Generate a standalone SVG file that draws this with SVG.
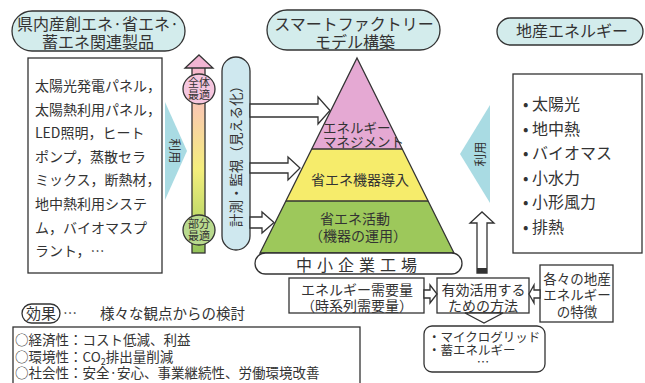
<svg xmlns="http://www.w3.org/2000/svg" width="645" height="383" viewBox="0 0 645 383">
<defs>
<linearGradient id="bar" x1="0" y1="0" x2="0" y2="1">
<stop offset="0" stop-color="#f6b7cf"/>
<stop offset="0.25" stop-color="#f9ccab"/>
<stop offset="0.55" stop-color="#f4ee7c"/>
<stop offset="0.8" stop-color="#c3db6a"/>
<stop offset="1" stop-color="#93c35a"/>
</linearGradient>
</defs>
<style>
text{font-family:"Noto Sans CJK JP","Noto Sans",sans-serif;fill:#333;}
.ln{stroke:#333;stroke-width:1.3;}
.pill{fill:#d3ecec;stroke:#333;stroke-width:1.3;}
.box{fill:#fff;stroke:#333;stroke-width:1.3;}
.arr{fill:#fff;stroke:#333;stroke-width:1.3;stroke-linejoin:miter;}
.use{fill:#a9dbe3;}
.c{text-anchor:middle;}
.t16{font-size:16px;}
.t14{font-size:14px;}
.t13{font-size:13.5px;}
.t11{font-size:11px;}
</style>
<rect width="645" height="383" fill="#fff"/>

<g id="label-products">
<rect class="pill" x="12" y="11" width="173" height="40" rx="20"/>
<text class="t16 c" x="98" y="29.5">県内産創エネ·省エネ·</text>
<text class="t16 c" x="98" y="48">蓄エネ関連製品</text>
</g>

<g id="box-products">
<rect class="box" x="28" y="58" width="134" height="215"/>
<text class="t14" x="35" y="91">太陽光発電パネル，</text>
<text class="t14" x="35" y="114.6">太陽熱利用パネル，</text>
<text class="t14" x="35" y="138.2">LED照明，ヒート</text>
<text class="t14" x="35" y="161.8">ポンプ，蒸散セラ</text>
<text class="t14" x="35" y="185.4">ミックス，断熱材，</text>
<text class="t14" x="35" y="209">地中熱利用システ</text>
<text class="t14" x="35" y="232.6">ム，バイオマスプ</text>
<text class="t14" x="35" y="256.2">ラント，…</text>
</g>

<g id="optimization-bar">
<rect x="192" y="67" width="13" height="186" fill="url(#bar)" class="ln"/>
<polygon points="199,55 213,68 185,68" fill="#f2b5d3" class="ln"/>
<ellipse cx="199" cy="89" rx="16" ry="15" fill="#f5c6de" class="ln"/>
<text class="t11 c" x="199" y="87">全体</text>
<text class="t11 c" x="199" y="99">最適</text>
<ellipse cx="199" cy="230" rx="16" ry="15" fill="#b9da8e" class="ln"/>
<text class="t11 c" x="199" y="228">部分</text>
<text class="t11 c" x="199" y="240">最適</text>
</g>

<g id="monitoring">
<rect class="pill" x="222" y="57" width="28" height="193" rx="14" style="fill:#cfe8ef"/>
<text class="t13 c" transform="translate(236,153) rotate(-90)" x="0" y="5">計測・監視（見える化）</text>
</g>

<g id="title-smart-factory">
<rect class="pill" x="267" y="10" width="173" height="40" rx="20"/>
<text class="t16 c" x="354" y="29.5">スマートファクトリー</text>
<text class="t16 c" x="355" y="48">モデル構築</text>
</g>

<g id="pyramid">
<polygon points="357,58 402.2,149 311.8,149" fill="#e5a9d3"/>
<polygon points="311.8,149 402.2,149 428.1,201 285.9,201" fill="#f6ec6b"/>
<polygon points="285.9,201 428.1,201 454,253 260,253" fill="#9dc85b"/>
<polygon points="357,58 454,253 260,253" fill="none" class="ln"/>
<line class="ln" x1="311.8" y1="149" x2="402.2" y2="149"/>
<line class="ln" x1="285.9" y1="201" x2="428.1" y2="201"/>
<text class="t13" x="323" y="133">エネルギー</text>
<text class="t13" x="323" y="147">マネジメント</text>
<text class="t14 c" x="360" y="185">省エネ機器導入</text>
<text class="t14 c" x="355" y="224">省エネ活動</text>
<text class="t14 c" x="358" y="241">（機器の運用）</text>
</g>

<g id="factory">
<rect class="box" x="255" y="253" width="207" height="21" rx="10.5"/>
<text class="t16 c" x="359" y="271" style="letter-spacing:5px">中小企業工場</text>
</g>

<g id="label-local-energy">
<rect class="pill" x="497" y="18" width="146" height="27" rx="13.5"/>
<text class="t16 c" x="572" y="37">地産エネルギー</text>
</g>

<g id="box-local-energy">
<rect class="box" x="513" y="74" width="129" height="179"/>
<text class="t16" x="523" y="110">• 太陽光</text>
<text class="t16" x="523" y="134.6">• 地中熱</text>
<text class="t16" x="523" y="159">• バイオマス</text>
<text class="t16" x="523" y="183.8">• 小水力</text>
<text class="t16" x="523" y="208">• 小形風力</text>
<text class="t16" x="523" y="233">• 排熱</text>
</g>

<g id="demand">
<rect class="box" x="289" y="278" width="135" height="35"/>
<text class="t14 c" x="357" y="295">エネルギー需要量</text>
<text class="t14 c" x="357" y="311">（時系列需要量）</text>
</g>

<g id="method">
<rect class="box" x="437" y="278" width="92" height="35"/>
<text class="t14 c" x="483.5" y="295">有効活用する</text>
<text class="t14 c" x="483" y="311">ための方法</text>
</g>

<g id="features">
<rect class="box" x="540" y="265" width="73" height="57"/>
<text class="t13 c" x="577" y="284">各々の地産</text>
<text class="t13 c" x="577" y="300">エネルギー</text>
<text class="t13 c" x="577" y="317">の特徴</text>
</g>

<g id="examples">
<rect class="box" x="424" y="326" width="121" height="46" rx="8"/>
<text x="428" y="341.5" style="font-size:12.5px">・マイクログリッド</text>
<text x="428" y="355" style="font-size:12.5px">・蓄エネルギー</text>
<text class="c" x="483" y="367" style="font-size:12.5px">…</text>
</g>

<g id="effects">
<rect class="box" x="22" y="304" width="38" height="19" rx="9.5"/>
<text class="c" x="41" y="319" style="font-size:15px">効果</text>
<text x="63" y="318" style="font-size:14px">…</text>
<text x="100" y="318.5" style="font-size:14.5px">様々な観点からの検討</text>
<rect class="box" x="13" y="327" width="347" height="70"/>
<text class="t13" x="15" y="345">○経済性：コスト低減、利益</text>
<text class="t13" x="15" y="362">○環境性：CO<tspan style="font-size:9px" dy="3">2</tspan><tspan dy="-3">排出量削減</tspan></text>
<text class="t13" x="15" y="378">○社会性：安全·安心、事業継続性、労働環境改善</text>
</g>

<g id="connectors">
<polygon class="use" points="165,102 187,151 165,200"/>
<text class="c" transform="translate(174,151) rotate(90)" x="0" y="4.5" style="font-size:12.5px">利用</text>
<polygon class="use" points="490,105 460,154 490,203"/>
<text class="c" transform="translate(480,154) rotate(-90)" x="0" y="4.5" style="font-size:12.5px">利用</text>
<polygon class="arr" points="250,104 318,104 318,97 330,110.5 318,124 318,117 250,117"/>
<polygon class="arr" points="250,163 288,163 288,157 300,168 288,180 288,173 250,173"/>
<polygon class="arr" points="250,217 262,217 262,212 274,222.5 262,233 262,228 250,228"/>
<polygon class="arr" points="477,273 477,223 470,223 482,212 494,223 487,223 487,273"/>
<rect x="477" y="268" width="10" height="5" fill="#333"/>
<polygon class="arr" points="424,290 430,290 430,285 437,294 430,303 430,298 424,298"/>
<polygon class="arr" points="540,290 534,290 534,285 529,294 534,303 534,298 540,298"/>
<polygon class="arr" points="465,313 503,313 484,323"/>
</g>
</svg>
